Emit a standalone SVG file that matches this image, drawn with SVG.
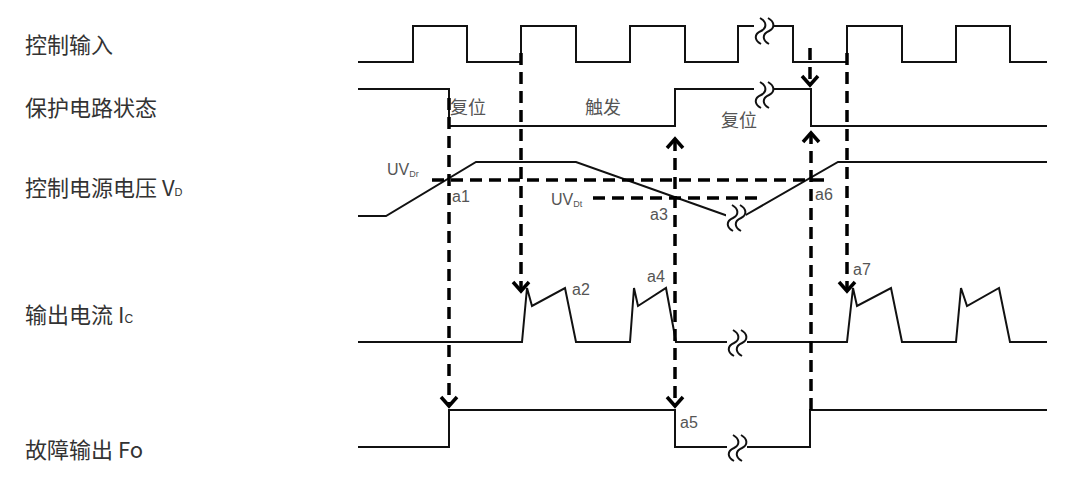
<svg xmlns="http://www.w3.org/2000/svg" width="1080" height="486" viewBox="0 0 1080 486">
<style>
.wave{fill:none;stroke:#111;stroke-width:2;stroke-linejoin:miter}
.brk{fill:none;stroke:#111;stroke-width:2}
.dash{fill:none;stroke:#000;stroke-width:3.5;stroke-dasharray:12 7}
.lbl{font-family:"Noto Sans CJK SC","Liberation Sans",sans-serif;font-size:22px;fill:#333}
.cn{font-family:"Noto Sans CJK SC","Liberation Sans",sans-serif;font-size:18px;fill:#555}
.pt{font-family:"Liberation Sans","Noto Sans",sans-serif;font-size:16px;fill:#555}
</style>
<defs>
<marker id="ah" markerUnits="userSpaceOnUse" viewBox="-12 -10 14 20" markerWidth="14" markerHeight="20" refX="0" refY="0" orient="auto-start-reverse" overflow="visible">
<path d="M-9,-8 L0,0 L-9,8" fill="none" stroke="#000" stroke-width="3.5"/>
</marker>
<g id="brkSym">
<rect x="-6" y="-14" width="20" height="28" fill="#fff"/>
<path class="brk" d="M0,-13 C7,-9 7,-3 1,0 C-6,3 -6,9 1,13"/>
<path class="brk" d="M8,-13 C15,-9 15,-3 9,0 C2,3 2,9 9,13"/>
</g>
</defs>
<rect width="1080" height="486" fill="#fff"/>

<g id="control-input">
<text class="lbl" x="25" y="53">控制输入</text>
<path class="wave" d="M358,62 H413 V26 H467 V62 H521 V26 H576 V62 H630 V26 H685 V62 H738 V26 H793 V62 H847 V26 H902 V62 H956 V26 H1010 V62 H1047"/>
<use href="#brkSym" x="760" y="31"/>
</g>

<g id="protection-state">
<text class="lbl" x="25" y="116">保护电路状态</text>
<path class="wave" d="M358,89 H449 V126 H675 V89 H811 V126 H1047"/>
<use href="#brkSym" x="760" y="95"/>
<text class="cn" x="450" y="114">复位</text>
<text class="cn" x="585" y="114">触发</text>
<text class="cn" x="721" y="127">复位</text>
</g>

<g id="supply-voltage">
<text class="lbl" x="25" y="196">控制电源电压 V<tspan font-size="11" font-family="Liberation Sans, sans-serif">D</tspan></text>
<path class="wave" d="M358,216 H386 L476,162 H576 L728,216 M744,216 L838,162 H1047"/>
<use href="#brkSym" x="732" y="218"/>
<path class="dash" d="M432,180 H830"/>
<path class="dash" d="M593,198 H762"/>
<text class="pt" x="387" y="175">UV<tspan font-size="9" dy="2">Dr</tspan></text>
<text class="pt" x="551" y="205">UV<tspan font-size="9" dy="2">Dt</tspan></text>
<text class="pt" x="452" y="202">a1</text>
<text class="pt" x="650" y="220">a3</text>
<text class="pt" x="815" y="200">a6</text>
</g>

<g id="output-current">
<text class="lbl" x="25" y="323">输出电流 I<tspan font-size="12" font-family="Liberation Sans, sans-serif">C</tspan></text>
<path class="wave" d="M358,342 H522 L527,288 L532,306 L565,288 L576,342 H630 L634,288 L638,306 L666,288 L676,342 H847 L853,288 L857,306 L891,288 L902,342 H956 L961,288 L967,306 L999,288 L1010,342 H1047"/>
<use href="#brkSym" x="733" y="343"/>
<text class="pt" x="572" y="295">a2</text>
<text class="pt" x="647" y="282">a4</text>
<text class="pt" x="853" y="275">a7</text>
</g>

<g id="fault-output">
<text class="lbl" x="25" y="458">故障输出 Fo</text>
<path class="wave" d="M358,447 H449 V410 H675 V447 H810 V410 H1047"/>
<use href="#brkSym" x="733" y="448"/>
<text class="pt" x="680" y="428">a5</text>
</g>

<g id="connectors">
<path class="dash" d="M449,98 V406" marker-end="url(#ah)"/>
<path class="dash" d="M521,53 V291" marker-end="url(#ah)"/>
<path class="dash" d="M675,139 V406" marker-start="url(#ah)" marker-end="url(#ah)"/>
<path class="dash" d="M811,410 V133" marker-end="url(#ah)"/>
<path class="dash" d="M810,48 V85" marker-end="url(#ah)"/>
<path class="dash" d="M847,53 V291" marker-end="url(#ah)"/>
</g>
</svg>
